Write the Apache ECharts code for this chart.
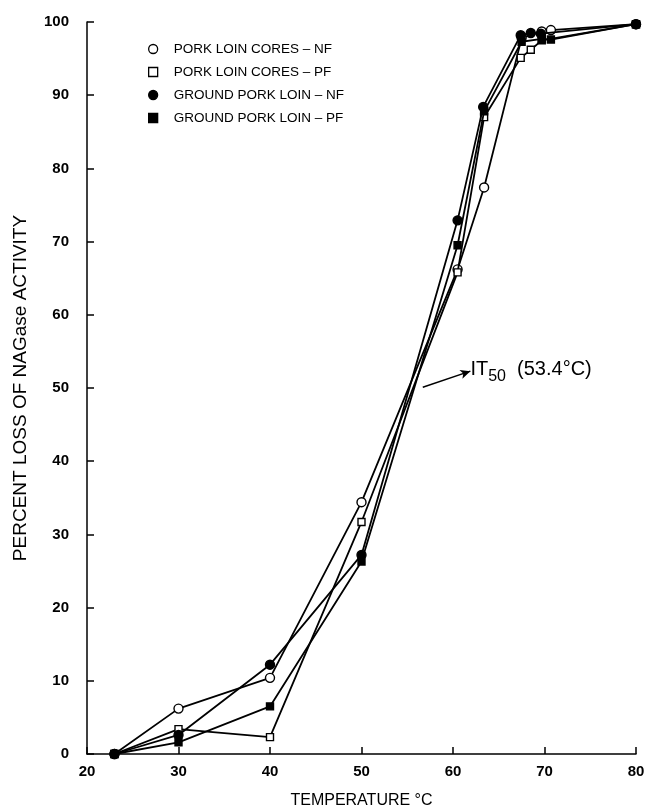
<!DOCTYPE html>
<html>
<head>
<meta charset="utf-8">
<script src="https://cdn.jsdelivr.net/npm/echarts@6/dist/echarts.min.js"></script>
<style>
  html, body { margin: 0; padding: 0; background: #fff; }
  #chart { width: 658px; height: 810px; }
</style>
</head>
<body>
<div id="chart"></div>
<script>
// temperatures (°C) and percent loss of NAGase activity
const coresNfTemp = [23, 30, 40, 50, 60.5, 63.4, 67.5, 69.7, 70.7, 80]
const coresNfLoss = [0, 6.2, 10.4, 34.4, 66.2, 77.4, 97.8, 98.7, 98.9, 99.7]

const coresPfTemp = [23, 30, 40, 50, 60.5, 63.4, 67.4, 68.5, 69.7, 80]
const coresPfLoss = [0, 3.4, 2.3, 31.7, 65.8, 87.0, 95.1, 96.2, 97.5, 99.7]

const groundNfTemp = [23, 30, 40, 50, 60.5, 63.3, 67.4, 68.5, 69.6, 80]
const groundNfLoss = [0, 2.6, 12.2, 27.2, 72.9, 88.4, 98.2, 98.5, 98.4, 99.7]

const groundPfTemp = [23, 30, 40, 50, 60.5, 63.4, 67.5, 69.7, 70.7, 80]
const groundPfLoss = [0, 1.6, 6.5, 26.3, 69.5, 87.8, 97.3, 97.7, 97.6, 99.7]

const seriesNames = [
  'PORK LOIN CORES – NF',
  'PORK LOIN CORES – PF',
  'GROUND PORK LOIN – NF',
  'GROUND PORK LOIN – PF'
]

// IT50 annotation: arrow start/end and label anchor (data coords)
const it50Arrow = [[56.7, 50.1], [61.9, 52.3]]
const it50Label = [61.9, 52.5]

const FONT = 'Liberation Sans'

const zip = (xs, ys) => xs.map((x, i) => [x, ys[i]])

const myChart = echarts.init(document.getElementById('chart'))

// symbol + fill per series (open markers are white inside)
const styles = [
  { symbol: 'circle', size: 9, fill: '#fff' },
  { symbol: 'rect', size: 7, fill: '#fff' },
  { symbol: 'circle', size: 9, fill: '#000' },
  { symbol: 'rect', size: 7, fill: '#000' }
]
const dataSets = [
  zip(coresNfTemp, coresNfLoss),
  zip(coresPfTemp, coresPfLoss),
  zip(groundNfTemp, groundNfLoss),
  zip(groundPfTemp, groundPfLoss)
]

const series = seriesNames.map((name, i) => ({
  name: name,
  type: 'line',
  data: dataSets[i],
  symbol: styles[i].symbol,
  symbolSize: styles[i].size,
  showAllSymbol: true,
  z: 3 + i,
  lineStyle: { color: '#000', width: 1.8 },
  itemStyle: { color: styles[i].fill, borderColor: '#000', borderWidth: 1.4 }
}))

// annotation arrow + label
series.push({
  type: 'line',
  data: [],
  silent: true,
  markLine: {
    silent: true,
    symbol: ['none', 'arrow'],
    symbolSize: [7, 10],
    lineStyle: { color: '#000', width: 1.5, type: 'solid' },
    label: { show: false },
    data: [[{ coord: it50Arrow[0] }, { coord: it50Arrow[1] }]]
  },
  markPoint: {
    silent: true,
    symbol: 'circle',
    symbolSize: 0,
    data: [{
      coord: it50Label,
      label: {
        show: true,
        position: 'right',
        distance: 0,
        formatter: 'IT{s|50}  (53.4°C)',
        color: '#000',
        fontFamily: FONT,
        fontSize: 20,
        rich: {
          s: { fontFamily: FONT, fontSize: 16, color: '#000', padding: [14, 0, 0, 0] }
        }
      }
    }]
  }
})

const option = {
  backgroundColor: '#fff',
  animation: false,
  grid: { left: 87, right: 22, top: 22, bottom: 56, outerBoundsMode: 'none' },
  legend: {
    orient: 'vertical',
    left: 143,
    top: 37,
    itemWidth: 9,
    itemHeight: 9,
    itemGap: 9,
    textStyle: { color: '#000', fontFamily: FONT, fontSize: 13.5, padding: [0, 0, 0, 11] },
    data: seriesNames.map((name, i) => ({
      name: name,
      icon: styles[i].symbol,
      itemStyle: { color: styles[i].fill, borderColor: '#000', borderWidth: 1.3 }
    }))
  },
  xAxis: {
    type: 'value',
    min: 20,
    max: 80,
    interval: 10,
    name: 'TEMPERATURE °C',
    nameLocation: 'middle',
    nameGap: 39,
    nameTextStyle: { color: '#000', fontFamily: FONT, fontSize: 16 },
    axisLine: { lineStyle: { color: '#000', width: 1.5 } },
    axisTick: { inside: true, length: 7, lineStyle: { color: '#000', width: 1.5 } },
    axisLabel: { color: '#000', fontFamily: FONT, fontWeight: 'bold', fontSize: 15, margin: 10 },
    splitLine: { show: false }
  },
  yAxis: {
    type: 'value',
    min: 0,
    max: 100,
    interval: 10,
    name: 'PERCENT LOSS OF NAGase ACTIVITY',
    nameLocation: 'middle',
    nameGap: 57,
    nameTextStyle: { color: '#000', fontFamily: FONT, fontSize: 19 },
    axisLine: { show: true, lineStyle: { color: '#000', width: 1.5 } },
    axisTick: { show: true, inside: true, length: 7, lineStyle: { color: '#000', width: 1.5 } },
    axisLabel: { color: '#000', fontFamily: FONT, fontWeight: 'bold', fontSize: 15, margin: 18 },
    splitLine: { show: false }
  },
  series: series
}

myChart.setOption(option)
</script>
</body>
</html>
